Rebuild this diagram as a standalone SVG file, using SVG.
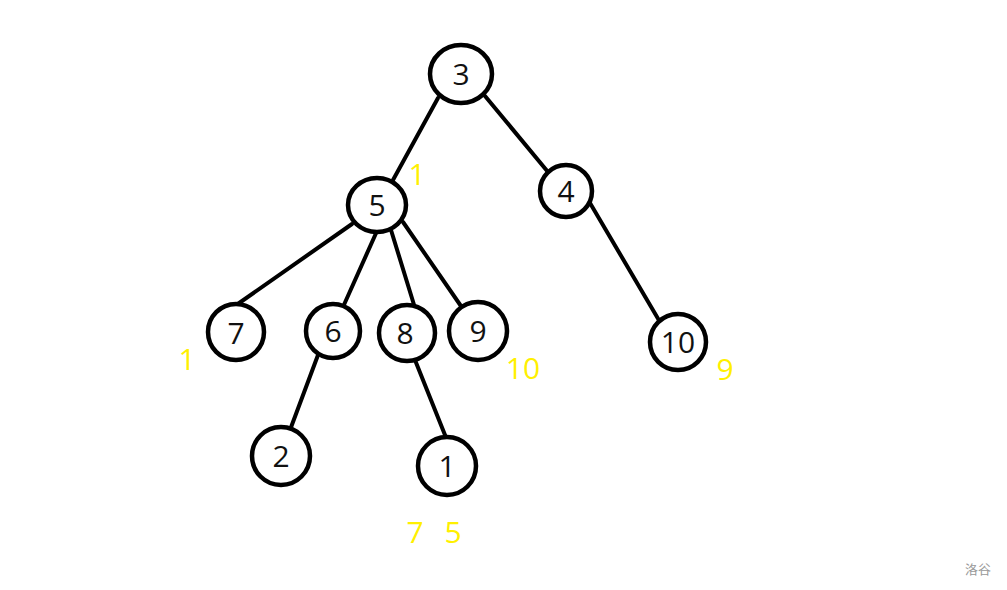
<svg xmlns="http://www.w3.org/2000/svg" width="1007" height="590" viewBox="0 0 1007 590">
<style>
.n{fill:#fff;stroke:#000;stroke-width:4.5}
.t{font-family:"Open Sans","Noto Sans",sans-serif;font-size:30px;fill:#111;text-anchor:middle}
.y{font-family:"Open Sans","Noto Sans",sans-serif;font-size:30px;fill:#fff000;text-anchor:middle}
.e{stroke:#000;stroke-width:4;stroke-linecap:round;fill:none}
</style>
<rect width="1007" height="590" fill="#fff"/>
<g id="connectors">
<line class="e" x1="438" y1="98" x2="393" y2="180"/>
<line class="e" x1="485" y1="96" x2="548" y2="172"/>
<line class="e" x1="352" y1="224" x2="232" y2="308"/>
<line class="e" x1="377" y1="231" x2="343" y2="307"/>
<line class="e" x1="391" y1="230" x2="415" y2="308"/>
<line class="e" x1="403" y1="222" x2="463" y2="309"/>
<line class="e" x1="590" y1="203" x2="660" y2="322"/>
<line class="e" x1="318" y1="355" x2="290" y2="430"/>
<line class="e" x1="415" y1="360" x2="447" y2="440"/>
</g>
<g id="node3"><ellipse class="n" cx="461" cy="74" rx="31" ry="29"/><text class="t" x="461" y="85">3</text></g>
<g id="node5"><ellipse class="n" cx="377" cy="205" rx="29" ry="27"/><text class="t" x="377" y="216">5</text></g>
<g id="node4"><ellipse class="n" cx="566" cy="191" rx="26" ry="26"/><text class="t" x="566" y="202">4</text></g>
<g id="node7"><ellipse class="n" cx="236" cy="332" rx="28" ry="28"/><text class="t" x="236" y="344">7</text></g>
<g id="node6"><ellipse class="n" cx="333" cy="331" rx="27" ry="27"/><text class="t" x="333" y="342">6</text></g>
<g id="node8"><ellipse class="n" cx="407" cy="333" rx="28" ry="28"/><text class="t" x="405" y="344">8</text></g>
<g id="node9"><ellipse class="n" cx="478" cy="331" rx="29" ry="29"/><text class="t" x="478" y="342">9</text></g>
<g id="node10"><ellipse class="n" cx="678" cy="342" rx="28" ry="28"/><text class="t" x="678" y="353">10</text></g>
<g id="node2"><ellipse class="n" cx="281" cy="456" rx="29" ry="29"/><text class="t" x="281" y="467">2</text></g>
<g id="node1"><ellipse class="n" cx="447" cy="466" rx="29" ry="29"/><text class="t" x="447" y="477">1</text></g>
<g id="labels">
<text class="y" x="417" y="185">1</text>
<text class="y" x="187" y="370">1</text>
<text class="y" x="523" y="379">10</text>
<text class="y" x="725" y="380">9</text>
<text class="y" x="415" y="543">7</text>
<text class="y" x="453" y="543">5</text>
</g>
<text x="978" y="574" font-family="Noto Sans CJK SC,sans-serif" font-size="13" fill="#999" text-anchor="middle">洛谷</text>
</svg>
